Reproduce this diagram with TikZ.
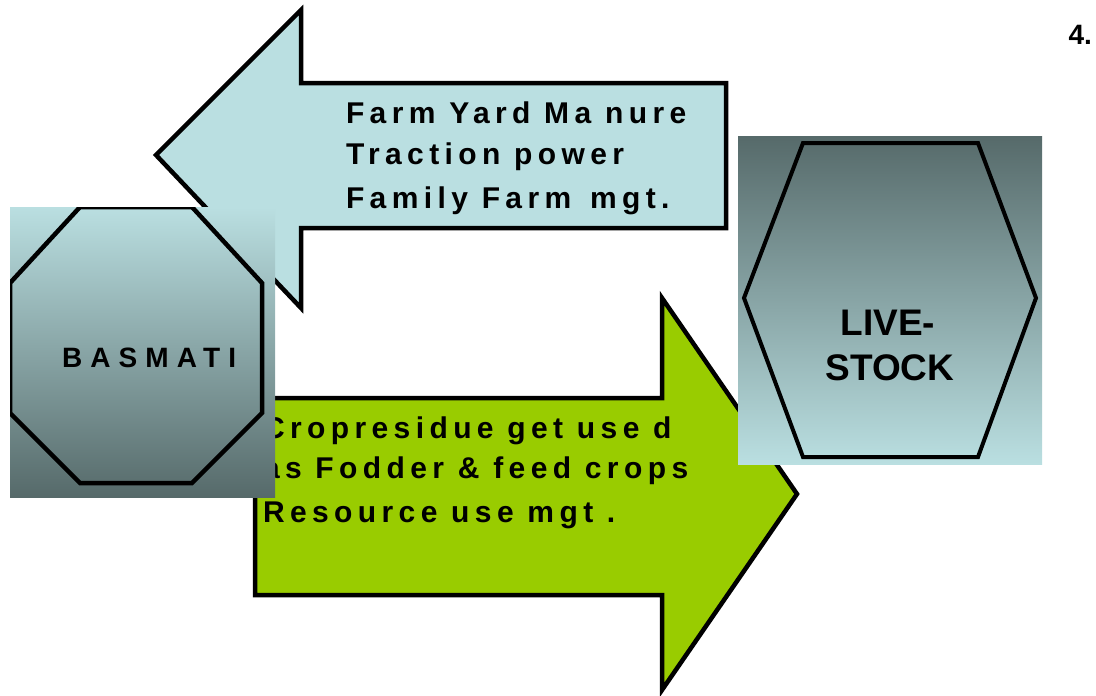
\documentclass[tikz,border=0pt]{standalone}
\usepackage{fontspec}
\setmainfont{Liberation Sans}
\newfontfamily\spacedfont[LetterSpace=18]{Liberation Sans}
\newfontfamily\widefont[LetterSpace=29]{Liberation Sans}
\usetikzlibrary{positioning}
\definecolor{paleblue}{HTML}{BADFE1}
\definecolor{slategrey}{HTML}{566A6A}
\definecolor{leafgreen}{HTML}{99CC00}

\begin{document}
\begin{tikzpicture}[x=1pt,y=-1pt]
 \tikzstyle{every node}=[inner sep=0pt, outer sep=0pt]
 \tikzstyle{flowarrow}=[draw=black, line width=4.5pt, line join=miter]
 \tikzstyle{frame}=[black, line width=4.5pt, line join=miter]
 \tikzstyle{arrowtext}=[anchor=base west, font=\spacedfont\bfseries\fontsize{30}{36}\selectfont]
 \useasboundingbox (0,0) rectangle (1096,696);
 % arrows
 \draw[flowarrow, fill=paleblue] (726,83) -- (301,83) -- (301,10) -- (156,155) -- (301,308) -- (301,228) -- (726,228) -- cycle;
 \draw[flowarrow, fill=leafgreen] (255,398) -- (662,398) -- (662,298) -- (797,494) -- (662,690) -- (662,595) -- (255,595) -- cycle;
 \node[arrowtext] (fym)      at (346,123) {Farm Yard Ma nure};
 \node[arrowtext] (traction) at (346,164) {Traction power};
 \node[arrowtext] (family)   at (346,208) {Family Farm\, mgt.};
 \node[arrowtext] (residue)  at (263,438) {Cropresidue get use d};
 \node[arrowtext] (fodder)   at (263,478) {as Fodder \& feed crops};
 \node[arrowtext] (resource) at (263,522) {Resource use mgt .};
 % boxes
 \node[anchor=north west, minimum width=265, minimum height=290, top color=paleblue, bottom color=slategrey] (basmati) at (10,207) {};
 \node[anchor=north west, minimum width=304, minimum height=328, top color=slategrey, bottom color=paleblue] (livestock) at (738,136) {};
 \begin{scope}
  \clip (basmati.south west) rectangle (basmati.north east);
  \draw[frame] (80,207) -- (192,207) -- (262,283) -- (262,413) -- (192,483) -- (80,483) -- (10,413) -- (10,283) -- cycle;
 \end{scope}
 \draw[frame, line width=4pt] (803,143) -- (978,143) -- (1036,298) -- (978,457) -- (803,457) -- (744,298) -- cycle;
 \node[anchor=base west, font=\widefont\bfseries\fontsize{28}{34}\selectfont] (basmatitext) at (62,367) {BASMATI};
 \node[anchor=base, font=\bfseries\fontsize{37}{44}\selectfont] (live) at (888,335) {LIVE-};
 \node[anchor=base, font=\bfseries\fontsize{37}{44}\selectfont] (stock) at (890,380) {STOCK};
 \node[anchor=base east, font=\bfseries\fontsize{28}{34}\selectfont] (number) at (1092,45) {4.};
\end{tikzpicture}
\end{document}
